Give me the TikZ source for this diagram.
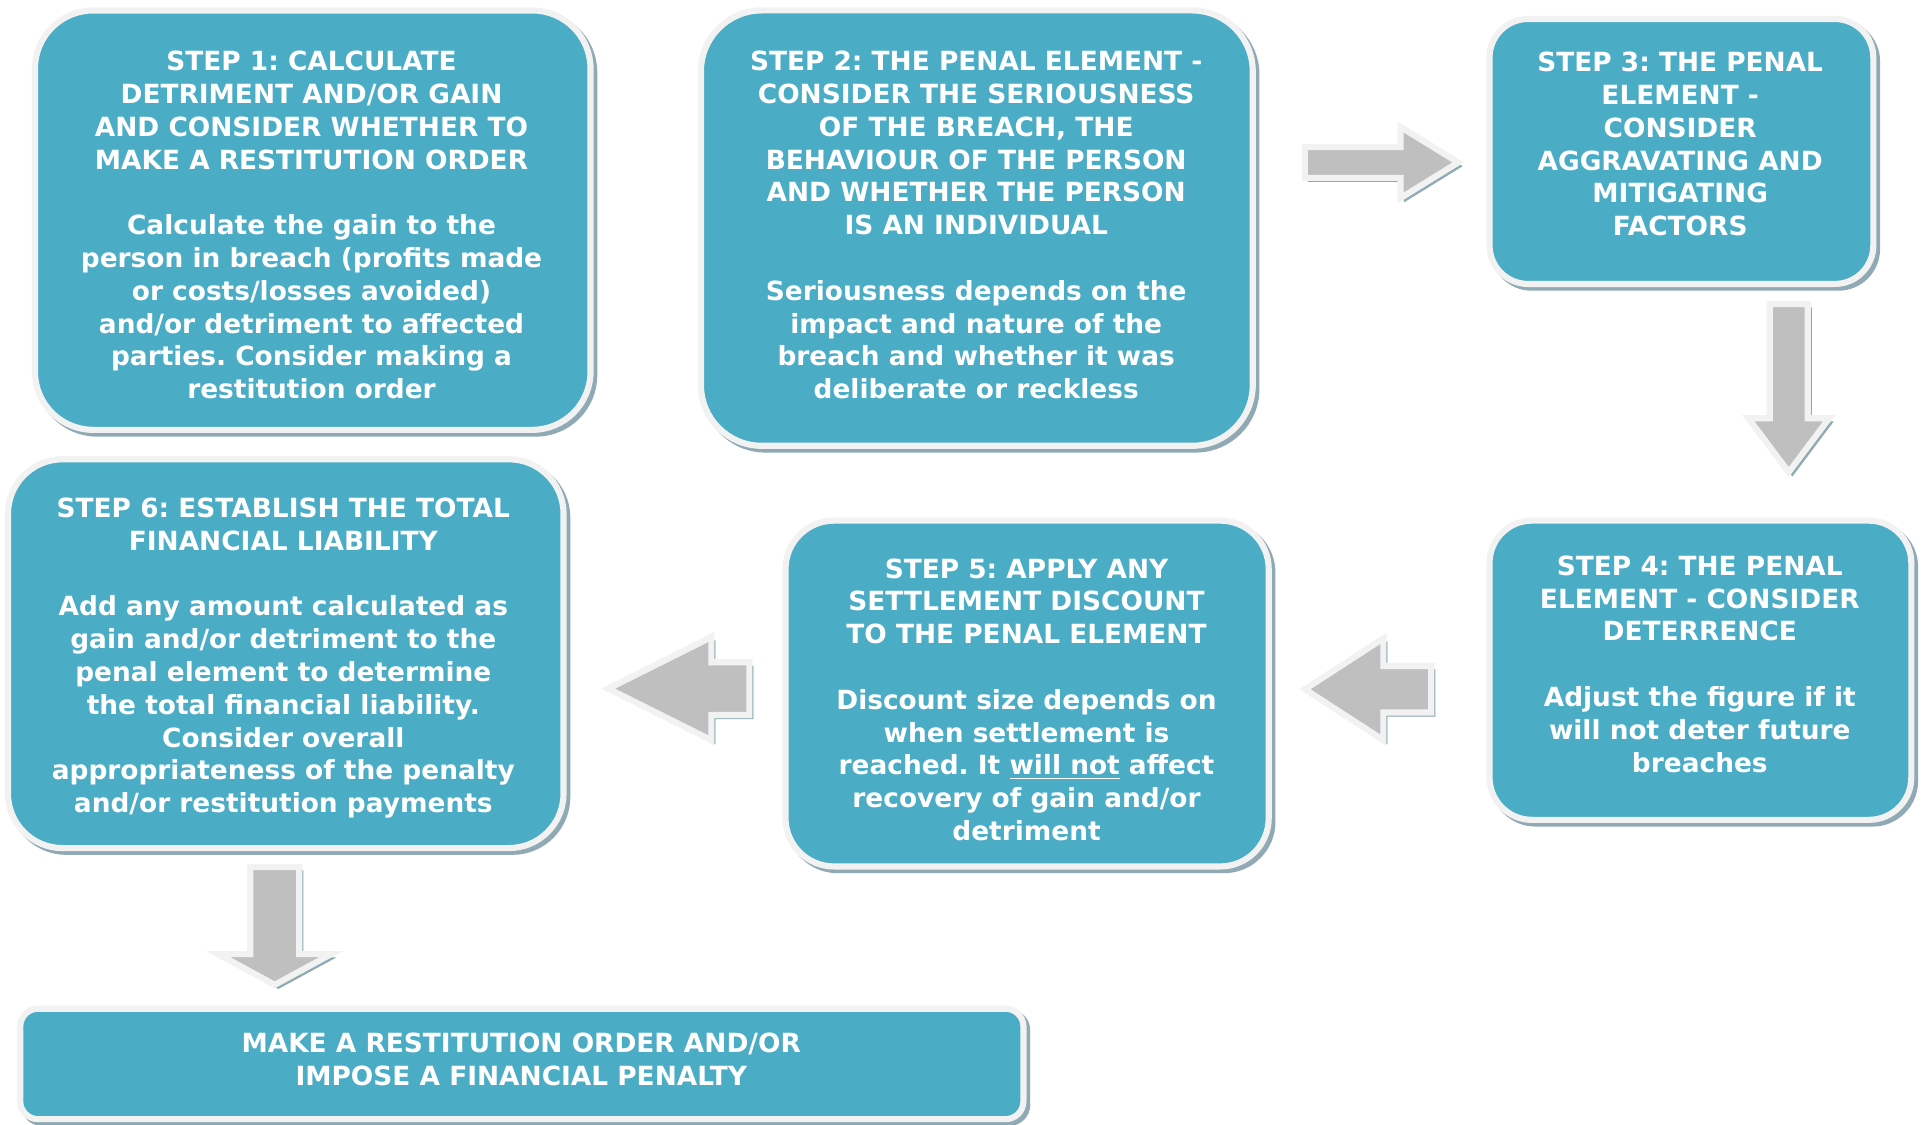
\documentclass[tikz,border=0pt]{standalone}
\usepackage{fontspec}
\setmainfont{DejaVu Sans}
\definecolor{tealbox}{HTML}{4BACC6}
\definecolor{framec}{HTML}{F2F2F2}
\definecolor{shc}{HTML}{8FAAB4}
\definecolor{arrgray}{HTML}{BFBFBF}
\frenchspacing
\begin{document}
\begin{tikzpicture}[x=0.6132pt,y=-0.6132pt,
  stepbox/.style={draw=framec, fill=tealbox, line width=3.07pt, inner sep=0pt, outer sep=0pt,
    preaction={draw=shc, fill=shc, transform canvas={shift={(1.84pt,-1.84pt)}}}},
  steptext/.style={text=white, align=center, inner sep=0pt,
    font=\fontsize{13.2pt}{16.4pt}\selectfont\bfseries\frenchspacing},
  blockarr/.style={fill=arrgray, draw=framec, line width=3.07pt, line join=miter, miter limit=10,
    preaction={draw=shc, fill=shc, transform canvas={shift={(1.84pt,-1.84pt)}}}}]
\useasboundingbox[fill=white] (0,0) rectangle (1568,917.3);

% boxes
\node[stepbox, minimum width=277.8pt, minimum height=209.7pt, rounded corners=29.1pt] (s1) at (255,179.5) {};
\node[stepbox, minimum width=275.9pt, minimum height=217.7pt, rounded corners=30.4pt] (s2) at (796.5,186) {};
\node[stepbox, minimum width=191.9pt, minimum height=132.5pt, rounded corners=19.3pt] (s3) at (1371,123.5) {};
\node[stepbox, minimum width=210.9pt, minimum height=149.6pt, rounded corners=21.2pt] (s4) at (1386.5,546.5) {};
\node[stepbox, minimum width=241.6pt, minimum height=172.9pt, rounded corners=24.2pt] (s5) at (837.5,565.5) {};
\node[stepbox, minimum width=277.8pt, minimum height=194.4pt, rounded corners=27.3pt] (s6) at (233,533) {};
\node[stepbox, minimum width=501.6pt, minimum height=55.2pt, rounded corners=8.9pt] (s7) at (425.5,867.5) {};

% texts
\node[steptext] (t1) at (254,186) {\strut STEP 1: CALCULATE\\DETRIMENT AND/OR GAIN\\AND CONSIDER WHETHER TO\\MAKE A RESTITUTION ORDER\\[16.4pt]
Calculate the gain to the\\person in breach (profits made\\or costs/losses avoided)\\and/or detriment to affected\\parties. Consider making a\\restitution order\strut};
\node[steptext] (t2) at (796,186) {\strut STEP 2: THE PENAL ELEMENT -\\CONSIDER THE SERIOUSNESS\\OF THE BREACH, THE\\BEHAVIOUR OF THE PERSON\\AND WHETHER THE PERSON\\IS AN INDIVIDUAL\\[16.4pt]
Seriousness depends on the\\impact and nature of the\\breach and whether it was\\deliberate or reckless\strut};
\node[steptext] (t3) at (1370,120) {\strut STEP 3: THE PENAL\\ELEMENT -\\CONSIDER\\AGGRAVATING AND\\MITIGATING\\FACTORS\strut};
\node[steptext] (t4) at (1386,544) {\strut STEP 4: THE PENAL\\ELEMENT - CONSIDER\\DETERRENCE\\[16.4pt]
Adjust the figure if it\\will not deter future\\breaches\strut};
\node[steptext] (t5) at (837,573) {\strut STEP 5: APPLY ANY\\SETTLEMENT DISCOUNT\\TO THE PENAL ELEMENT\\[16.4pt]
Discount size depends on\\when settlement is\\reached. It \underline{will not} affect\\recovery of gain and/or\\detriment\strut};
\node[steptext] (t6) at (231,537) {\strut STEP 6: ESTABLISH THE TOTAL\\FINANCIAL LIABILITY\\[16.4pt]
Add any amount calculated as\\gain and/or detriment to the\\penal element to determine\\the total financial liability.\\Consider overall\\appropriateness of the penalty\\and/or restitution payments\strut};
\node[steptext] (t7) at (425,866) {\strut MAKE A RESTITUTION ORDER AND/OR\\IMPOSE A FINANCIAL PENALTY\strut};

% block arrows
\path[blockarr] (1064,120) -- (1142,120) -- (1142,103.5) -- (1189,132.5) -- (1142,161.5) -- (1142,145) -- (1064,145) -- cycle;
\path[blockarr] (1443,248) -- (1474,248) -- (1474,341) -- (1491.5,341) -- (1458.5,385) -- (1425.5,341) -- (1443,341) -- cycle;
\path[blockarr] (1167,543) -- (1128,543) -- (1128,520.5) -- (1064,562) -- (1128,603.5) -- (1128,581) -- (1167,581) -- cycle;
\path[blockarr] (611,540) -- (580,540) -- (580,519.5) -- (496,561.5) -- (580,603.5) -- (580,583) -- (611,583) -- cycle;
\path[blockarr] (204,707) -- (244,707) -- (244,778) -- (270,778) -- (224,803) -- (178,778) -- (204,778) -- cycle;
\end{tikzpicture}
\end{document}
